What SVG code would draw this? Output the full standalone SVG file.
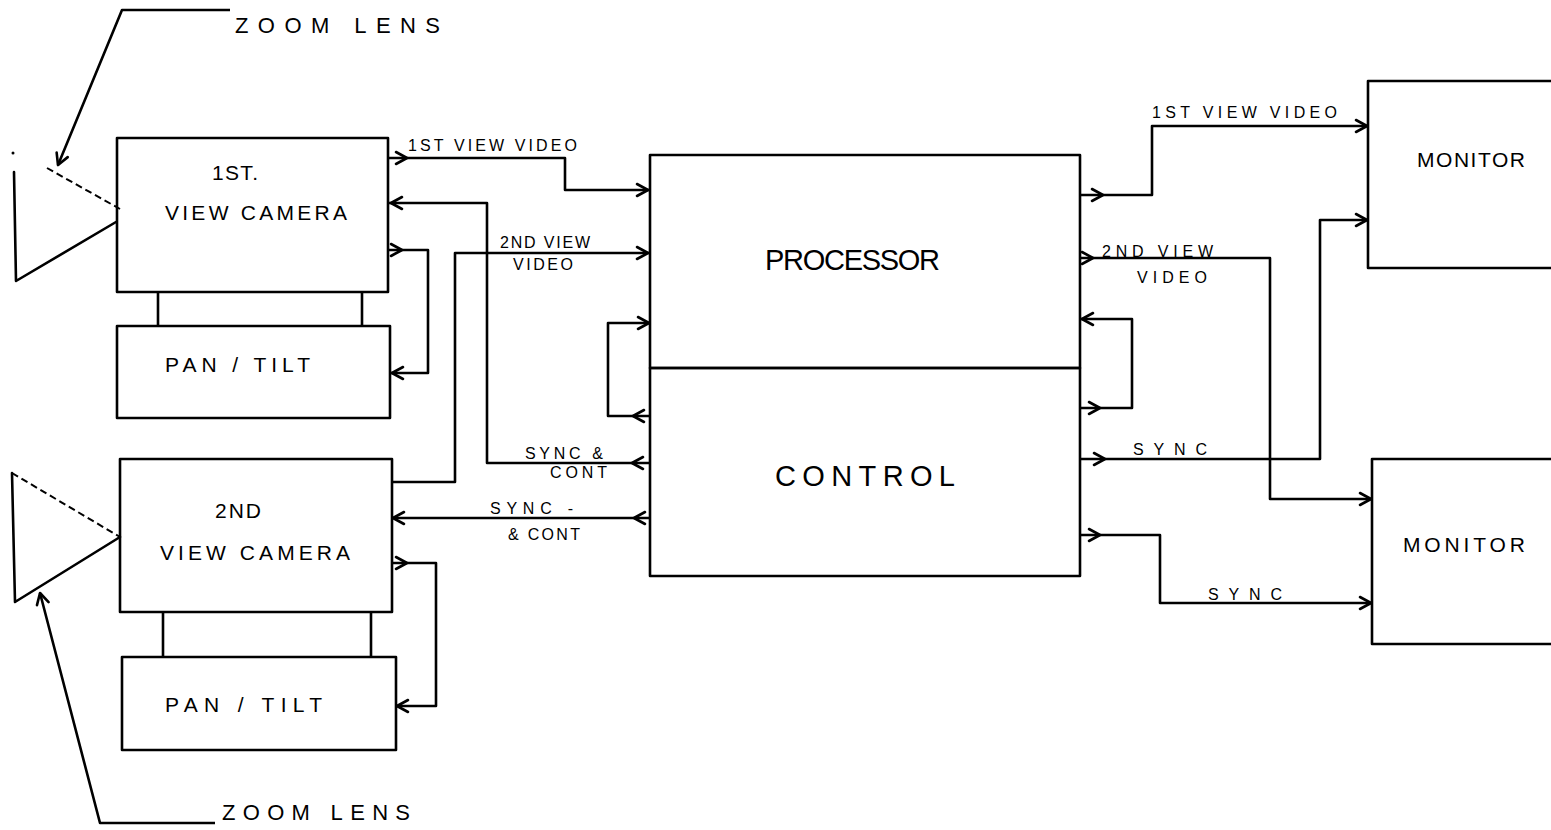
<svg xmlns="http://www.w3.org/2000/svg" xmlns:xlink="http://www.w3.org/1999/xlink" width="1551" height="830" viewBox="0 0 1551 830">
<style>
.b{fill:none;stroke:#000;stroke-width:2.6;stroke-linejoin:round;stroke-linecap:round}
.d{fill:none;stroke:#000;stroke-width:2;stroke-dasharray:7 4}
.c{fill:none;stroke:#000;stroke-width:2.6;stroke-linejoin:round}
.t{font-family:"Liberation Sans",Arial,sans-serif;fill:#000}
.s{font-size:16px}
.m{font-size:21px}
.z{font-size:22px}
.l{font-size:29px}
</style>
<defs>
<path id="ar" d="M-11,-6 L0,0 L-11,6" fill="none" stroke="#000" stroke-width="2.6" stroke-linecap="round" stroke-linejoin="round"/>
</defs>
<rect width="1551" height="830" fill="#fff"/>

<g id="zoom-lens-1">
<circle cx="13" cy="153" r="1.5"/>
<path class="b" d="M14,172 L16,281 L116,222"/>
<path class="d" d="M47,168 L120,209"/>
</g>
<g id="zoom-lens-2">
<path class="b" d="M120,537 L15,602 L12,473"/>
<path class="d" d="M12,473 L120,537"/>
</g>

<g id="camera-1">
<rect class="b" x="117" y="138" width="271" height="154"/>
<text class="t m" x="212" y="180" textLength="46">1ST.</text>
<text class="t m" x="165" y="220" textLength="182">VIEW  CAMERA</text>
</g>
<g id="pan-tilt-1">
<rect class="b" x="117" y="326" width="273" height="92"/>
<text class="t m" x="165" y="372" textLength="145">PAN / TILT</text>
</g>
<g id="camera-2">
<rect class="b" x="120" y="459" width="272" height="153"/>
<text class="t m" x="215" y="518" textLength="46">2ND</text>
<text class="t m" x="160" y="560" textLength="190">VIEW  CAMERA</text>
</g>
<g id="pan-tilt-2">
<rect class="b" x="122" y="657" width="274" height="93"/>
<text class="t m" x="165" y="712" textLength="157">PAN / TILT</text>
</g>
<g id="processor">
<rect class="b" x="650" y="155" width="430" height="213"/>
<text class="t l" x="765" y="270" textLength="175">PROCESSOR</text>
</g>
<g id="control">
<rect class="b" x="650" y="368" width="430" height="208"/>
<text class="t l" x="775" y="486" textLength="180">CONTROL</text>
</g>
<g id="monitor-1">
<rect class="b" x="1368" y="81" width="200" height="187"/>
<text class="t m" x="1417" y="167" textLength="108">MONITOR</text>
</g>
<g id="monitor-2">
<rect class="b" x="1372" y="459" width="200" height="185"/>
<text class="t m" x="1403" y="552" textLength="122">MONITOR</text>
</g>

<g id="labels">
<text class="t z" x="235" y="33" textLength="205">ZOOM  LENS</text>
<text class="t z" x="222" y="820" textLength="188">ZOOM  LENS</text>
<text class="t s" x="408" y="151" textLength="169">1ST VIEW  VIDEO</text>
<text class="t s" x="500" y="248" textLength="90">2ND VIEW</text>
<text class="t s" x="513" y="270" textLength="60">VIDEO</text>
<text class="t s" x="525" y="459" textLength="78">SYNC &amp;</text>
<text class="t s" x="550" y="478" textLength="57">CONT</text>
<text class="t s" x="490" y="514" textLength="83">SYNC -</text>
<text class="t s" x="508" y="540" textLength="72">&amp; CONT</text>
<text class="t s" x="1152" y="118" textLength="185">1ST VIEW  VIDEO</text>
<text class="t s" x="1102" y="257" textLength="111">2ND VIEW</text>
<text class="t s" x="1137" y="283" textLength="70">VIDEO</text>
<text class="t s" x="1133" y="455" textLength="74">SYNC</text>
<text class="t s" x="1208" y="600" textLength="74">SYNC</text>
</g>

<g id="connectors">
<path class="c" d="M158,292 V326 M362,292 V326 M163,612 V657 M371,612 V657"/>
<path class="c" d="M230,10 H122 L58,165"/>
<path class="c" d="M215,823 H100 L40,593"/>
<path class="c" d="M388,158 H565 V190 H650"/>
<path class="c" d="M388,203 H487 V463 H650"/>
<path class="c" d="M392,482 H455 V253 H650"/>
<path class="c" d="M388,250 H428 V373 H390"/>
<path class="c" d="M392,518 H650"/>
<path class="c" d="M392,563 H436 V706 H396"/>
<path class="c" d="M650,323 H608 V416 H650"/>
<path class="c" d="M1080,195 H1152 V126 H1368"/>
<path class="c" d="M1080,258 H1270 V499 H1372"/>
<path class="c" d="M1080,319 H1132 V408 H1080"/>
<path class="c" d="M1080,459 H1320 V220 H1368"/>
<path class="c" d="M1080,535 H1160 V603 H1372"/>
<use xlink:href="#ar" transform="translate(58,165) rotate(112.4)"/>
<use xlink:href="#ar" transform="translate(40,593) rotate(-104.6)"/>
<use xlink:href="#ar" transform="translate(407,158)"/>
<use xlink:href="#ar" transform="translate(648,190)"/>
<use xlink:href="#ar" transform="translate(391,203) rotate(180)"/>
<use xlink:href="#ar" transform="translate(632,463) rotate(180)"/>
<use xlink:href="#ar" transform="translate(648,253)"/>
<use xlink:href="#ar" transform="translate(402,250)"/>
<use xlink:href="#ar" transform="translate(392,373) rotate(180)"/>
<use xlink:href="#ar" transform="translate(393,518) rotate(180)"/>
<use xlink:href="#ar" transform="translate(634,518) rotate(180)"/>
<use xlink:href="#ar" transform="translate(407,563)"/>
<use xlink:href="#ar" transform="translate(397,706) rotate(180)"/>
<use xlink:href="#ar" transform="translate(649,323)"/>
<use xlink:href="#ar" transform="translate(633,416) rotate(180)"/>
<use xlink:href="#ar" transform="translate(1103,195)"/>
<use xlink:href="#ar" transform="translate(1367,126)"/>
<use xlink:href="#ar" transform="translate(1093,258)"/>
<use xlink:href="#ar" transform="translate(1371,499)"/>
<use xlink:href="#ar" transform="translate(1082,319) rotate(180)"/>
<use xlink:href="#ar" transform="translate(1100,408)"/>
<use xlink:href="#ar" transform="translate(1105,459)"/>
<use xlink:href="#ar" transform="translate(1367,220)"/>
<use xlink:href="#ar" transform="translate(1100,535)"/>
<use xlink:href="#ar" transform="translate(1371,603)"/>
</g>
</svg>
